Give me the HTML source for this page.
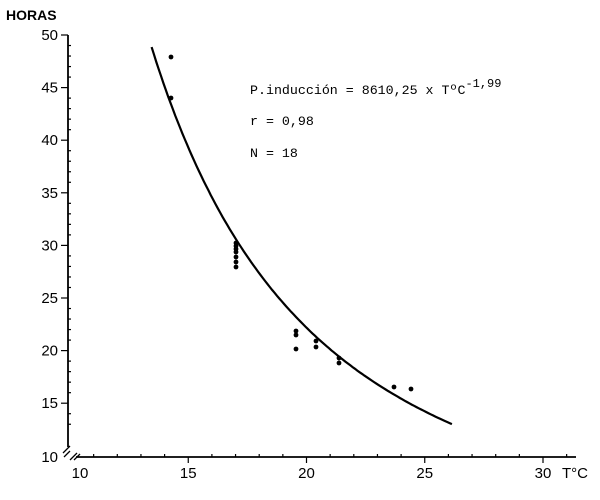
<!DOCTYPE html>
<html><head><meta charset="utf-8"><style>
body{margin:0;background:#fff;width:600px;height:495px;overflow:hidden}
svg text{font-family:"Liberation Sans",sans-serif;fill:#000}
</style></head><body>
<svg id="s" width="600" height="495" xmlns="http://www.w3.org/2000/svg">
<text x="6" y="20" font-size="14" font-weight="bold">HORAS</text>
<g font-size="13.3">
<text x="250" y="94" style="font-family:'Liberation Mono',monospace">P.inducción = 8610,25 x TºC<tspan dy="-7" font-size="12">-1,99</tspan></text>
<text x="250" y="125" style="font-family:'Liberation Mono',monospace">r = 0,98</text>
<text x="250" y="157" style="font-family:'Liberation Mono',monospace">N = 18</text>
</g>
<text x="562" y="478" font-size="15">T°C</text>
</svg>
<script>
var s=document.getElementById('s'),h='';
function X(t){return 70+(t-10)*23.65}
function Y(v){return 35+(50-v)*10.52}
h+='<line x1="68" y1="35" x2="68" y2="447" stroke="#000" stroke-width="1.8"/>';
h+='<line x1="76" y1="457" x2="576" y2="457" stroke="#000" stroke-width="1.8"/>';
h+='<path d="M63 453 L70 446 M64 457 L70 451 M70 460 L77 453 M74 460 L80 454" stroke="#000" stroke-width="1.3" fill="none"/>';
for(var v=13;v<=50;v++){var y=Y(v);var m=v%5==0;h+='<line x1="'+(68-(m?7:0))+'" y1="'+y+'" x2="'+(68+(m?0:3))+'" y2="'+y+'" stroke="#000" stroke-width="1.2"/>';if(m)h+='<text x="58" y="'+(y+5)+'" font-size="15" text-anchor="end">'+v+'</text>';}
h+='<text x="58" y="462" font-size="15" text-anchor="end">10</text>';
for(var t=11;t<=31;t++){var x=X(t);var m=t%5==0;h+='<line x1="'+x+'" y1="'+(457-(m?0:3))+'" x2="'+x+'" y2="'+(457+(m?6:0))+'" stroke="#000" stroke-width="1.2"/>';}
[10,15,20,25,30].forEach(function(t){h+='<text x="'+(X(t)+(t==10?10:0))+'" y="478" font-size="15" text-anchor="middle">'+t+'</text>';});
var d='';for(var t=13.45;t<=26.21;t+=0.1){var v=8610.25*Math.pow(t,-1.99);d+=(d?'L':'M')+X(t).toFixed(1)+' '+Y(v).toFixed(1);}
h+='<path d="'+d+'" stroke="#000" stroke-width="2.2" fill="none"/>';
[[171,57],[171,98],[236,243],[236,246],[236,249],[236,252],[236,257],[236,262],[236,267],[296,331],[296,335],[296,349],[316,341],[316,347],[339,358],[339,363],[394,387],[411,389]].forEach(function(p){h+='<circle cx="'+p[0]+'" cy="'+p[1]+'" r="2.4" fill="#000"/>';});
s.insertAdjacentHTML('beforeend',h);
</script>
</body></html>
